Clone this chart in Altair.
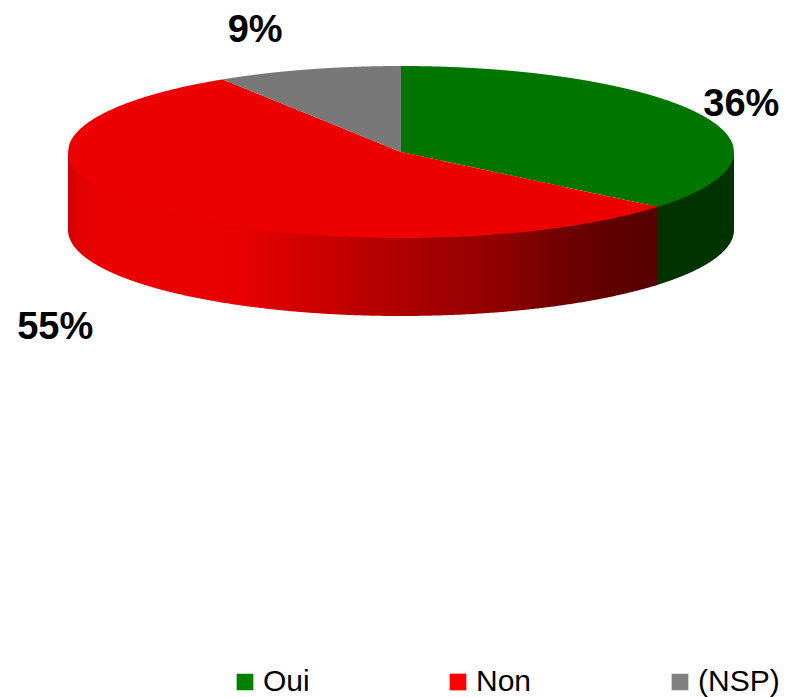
import numpy as np
import pandas as pd
import altair as alt

categories = ["Oui", "Non", "(NSP)"]
shares = [36, 55, 9]
labels = ["36%", "55%", "9%"]
legend_colors = ["#008000", "#FF0000", "#808080"]
top_colors = ["#007500", "#EC0000", "#787878"]

CX, CY, RX, RY, DEPTH = 401, 152, 333, 86, 78
W, H = 772, 689

xs = alt.X("x:Q", axis=None, scale=alt.Scale(domain=[8, 8 + W], nice=False, zero=False))
ys = alt.Y("y:Q", axis=None, scale=alt.Scale(domain=[8 + H, 8], nice=False, zero=False))
ys2 = alt.Y2("y2:Q")


def rim(turn):
    a = 2 * np.pi * np.asarray(turn) / 100
    return CX + RX * np.sin(a), CY - RY * np.cos(a)


def slice_table(t0, t1):
    """Upper / lower outline of one slice, sampled along x."""
    tt = np.linspace(t0, t1, 400)
    px, py = rim(tt)
    px = np.r_[CX, px, CX]
    py = np.r_[CY, py, CY]
    grid = np.unique(np.r_[np.linspace(px.min(), px.max(), 500), px[[1, -2]], CX])
    up, lo = [], []
    for g in grid:
        hits = [py[i] if px[i] == px[i + 1] else py[i] + (g - px[i]) * (py[i + 1] - py[i]) / (px[i + 1] - px[i])
                for i in range(len(px) - 1)
                if min(px[i], px[i + 1]) <= g <= max(px[i], px[i + 1])]
        up.append(min(hits))
        lo.append(max(hits))
    return pd.DataFrame({"x": grid, "y": up, "y2": lo})


def wall_table(t0, t1):
    tt = np.linspace(t0, t1, 500)
    px, py = rim(tt)
    # the wall's upper edge runs a little under the top surface, so no seam shows
    inset = np.minimum(3, py - CY)
    return pd.DataFrame({"x": px, "y": py - inset, "y2": py + DEPTH}).sort_values("x")


def gradient(stops, x0, x1):
    return alt.Gradient(
        gradient="linear", x1=0, x2=1, y1=0, y2=0,
        stops=[alt.GradientStop(offset=(x - x0) / (x1 - x0), color=c) for x, c in stops],
    )


edges = np.cumsum([0] + shares)
layers = []

# side wall (only the front part of the rim shows); green runs slightly under red
red_stops = [(68, "#D40000"), (78, "#E00000"), (100, "#EA0000"), (240, "#E80000"), (300, "#D40000"),
             (360, "#BC0000"), (420, "#A80000"), (500, "#900000"), (560, "#700000"),
             (620, "#5C0000"), (658, "#580000")]
red_wall = wall_table(edges[1], 75)
green_wall = wall_table(25, edges[1] + 0.4)
layers.append(alt.Chart(green_wall).mark_area(color="#003300").encode(x=xs, y=ys, y2=ys2))
layers.append(alt.Chart(red_wall).mark_area(
    color=gradient(red_stops, red_wall.x.min(), red_wall.x.max()), line=False).encode(x=xs, y=ys, y2=ys2))

# top surface
for i, c in enumerate(top_colors):
    layers.append(alt.Chart(slice_table(edges[i], edges[i + 1])).mark_area(color=c).encode(x=xs, y=ys, y2=ys2))

# percentage labels, anchored on the rim at the middle of each slice
mid = (edges[:-1] + edges[1:]) / 2
mx, my = rim(mid)
offsets = [(39, -10), (-96, 119), (-53, -38)]
for i in range(3):
    d = pd.DataFrame({"x": [mx[i]], "y": [my[i]], "t": [labels[i]]})
    layers.append(alt.Chart(d).mark_text(
        font="Liberation Sans", fontWeight="bold", fontSize=38, color="black",
        align="center", baseline="middle", dx=offsets[i][0], dy=offsets[i][1]
    ).encode(x=xs, y=ys, text="t:N"))

# legend
leg = pd.DataFrame({"cat": categories, "x": [CX] * 3, "y": [CY] * 3})
layers.append(alt.Chart(leg).mark_point(filled=True, size=0, opacity=0).encode(
    x=xs, y=ys,
    color=alt.Color("cat:N", scale=alt.Scale(domain=categories, range=legend_colors),
                    legend=alt.Legend(
                        title=None, orient="none", legendX=222, legendY=658, direction="horizontal",
                        columns=3, columnPadding=133, gridAlign="each", padding=0,
                        symbolType="square", symbolSize=280, symbolStrokeWidth=0, symbolOpacity=1,
                        labelFont="Liberation Sans", labelFontSize=30, labelColor="black",
                        labelLimit=200, labelOffset=3, clipHeight=32)),
))

chart = alt.layer(*layers).properties(
    width=W, height=H, padding=0,
    autosize=alt.AutoSizeParams(type="none"), background="white",
).configure_view(stroke=None)

chart.save("out.html", embed_options={"renderer": "svg", "actions": False})
